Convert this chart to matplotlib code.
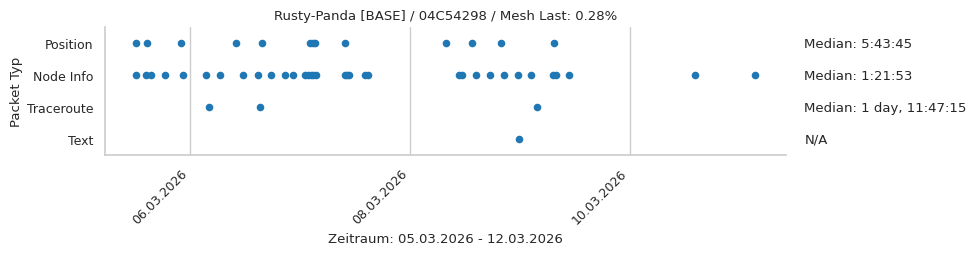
import matplotlib
matplotlib.use("Agg")
import matplotlib.pyplot as plt
import matplotlib.dates as mdates
import matplotlib.transforms as mtransforms
import pandas as pd
import seaborn as sns

sns.set_theme(style="whitegrid")
plt.rcParams['font.family'] = ['DejaVu Sans']

categories = ["Position", "Node Info", "Traceroute", "Text"]

position_times = [
    "2026-03-05 12:17", "2026-03-05 14:41", "2026-03-05 22:06", "2026-03-06 10:02",
    "2026-03-06 15:46", "2026-03-07 02:20", "2026-03-07 02:50", "2026-03-07 03:26",
    "2026-03-07 09:53", "2026-03-08 07:54", "2026-03-08 13:35", "2026-03-08 19:55",
    "2026-03-09 07:29",
]
nodeinfo_times = [
    "2026-03-05 12:17", "2026-03-05 14:33", "2026-03-05 15:38", "2026-03-05 18:36",
    "2026-03-05 22:32", "2026-03-06 03:33", "2026-03-06 06:36", "2026-03-06 11:38",
    "2026-03-06 14:54", "2026-03-06 17:44", "2026-03-06 20:47", "2026-03-06 22:32",
    "2026-03-07 01:05", "2026-03-07 01:45", "2026-03-07 02:24", "2026-03-07 02:57",
    "2026-03-07 03:29", "2026-03-07 09:53", "2026-03-07 10:19", "2026-03-07 10:41",
    "2026-03-07 14:20", "2026-03-07 14:54", "2026-03-08 10:45", "2026-03-08 11:21",
    "2026-03-08 14:28", "2026-03-08 17:31", "2026-03-08 20:34", "2026-03-08 23:38",
    "2026-03-09 02:28", "2026-03-09 07:16", "2026-03-09 07:51", "2026-03-09 10:45",
    "2026-03-10 14:15", "2026-03-11 03:20",
]
traceroute_times = ["2026-03-06 04:13", "2026-03-06 15:20", "2026-03-09 03:46"]
text_times = ["2026-03-08 23:56"]

median_labels = ["Median: 5:43:45", "Median: 1:21:53", "Median: 1 day, 11:47:15", "N/A"]

title = "Rusty-Panda [BASE] / 04C54298 / Mesh Last: 0.28%"
xlabel = "Zeitraum: 05.03.2026 - 12.03.2026"
ylabel = "Packet Typ"

series = [position_times, nodeinfo_times, traceroute_times, text_times]

fig = plt.figure(figsize=(9.77, 2.55), dpi=100)
ax = fig.add_axes([0.1075, 0.388, 0.697, 0.502])

color = "#1f77b4"
for i, times in enumerate(series):
    t = pd.to_datetime(times)
    ax.scatter(t, [i] * len(t), s=30, color=color, linewidths=0, zorder=3)

ax.set_ylim(3.5, -0.5)
ax.set_yticks(range(len(categories)))
ax.set_yticklabels(categories)
ax.grid(False, axis="y")
ax.grid(True, axis="x", color="#cccccc", linewidth=1)

ax.xaxis.set_major_locator(mdates.DayLocator(bymonthday=range(2, 32, 2)))
ax.xaxis.set_major_formatter(mdates.DateFormatter("%d.%m.%Y"))
ax.margins(x=0.05)
plt.setp(ax.get_xticklabels(), rotation=45, ha="right", rotation_mode="default")

for side in ["top", "right"]:
    ax.spines[side].set_visible(False)
for side in ["left", "bottom"]:
    ax.spines[side].set_color("#cccccc")
    ax.spines[side].set_linewidth(1.2)

ax.tick_params(axis="both", labelsize=9, length=0, pad=8.5, colors="#262626")
ax.set_title(title, fontsize=9.5, color="#262626", pad=6)
ax.set_xlabel(xlabel, fontsize=9.5, color="#262626", labelpad=4)
ax.set_ylabel(ylabel, fontsize=9.5, color="#262626", labelpad=2.5)

trans = mtransforms.blended_transform_factory(ax.transAxes, ax.transData)
for i, lab in enumerate(median_labels):
    ax.text(1.027, i, lab, transform=trans, ha="left", va="center",
            fontsize=9.5, color="#262626")

fig.savefig("out.png", dpi=100)
